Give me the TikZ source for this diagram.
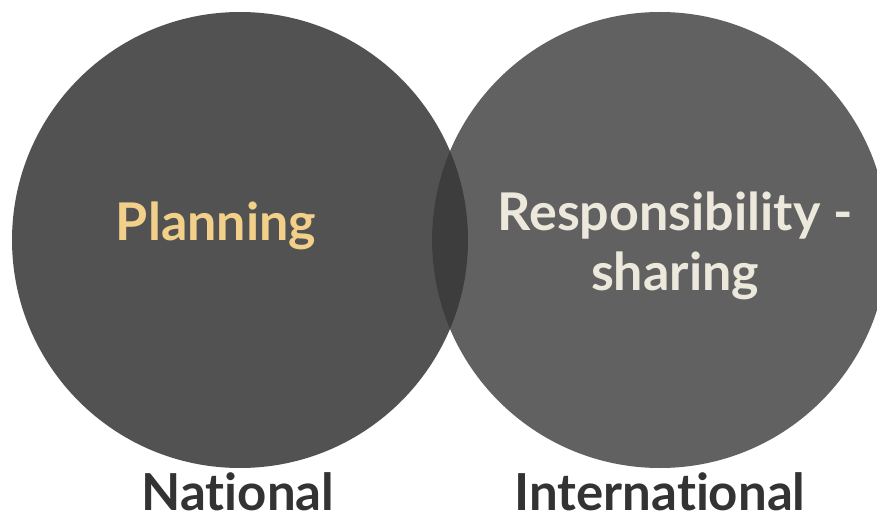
\documentclass[tikz,border=0pt]{standalone}
\usepackage{fontspec}
\setmainfont{Lato}[Ligatures=NoCommon]
\usepackage{xcolor}
\usepackage{tikz}
\usetikzlibrary{positioning}

\definecolor{natfill}{HTML}{525252}
\definecolor{intfill}{HTML}{616161}
\definecolor{overlapfill}{HTML}{3D3D3D}
\definecolor{goldtext}{HTML}{F2D08A}
\definecolor{creamtext}{HTML}{EDE8DC}
\definecolor{labeltext}{HTML}{333333}

\tikzset{
  setcircle/.style={circle, draw=none, inner sep=0pt, minimum size=456pt},
  intext/.style={font=\fontsize{52}{60}\selectfont\bfseries, align=center, inner sep=0pt},
  setlabel/.style={font=\fontsize{51}{58}\selectfont\bfseries, text=labeltext, inner sep=0pt, anchor=base}
}

\begin{document}
\begin{tikzpicture}[x=1pt, y=1pt]
    \useasboundingbox (0,0) rectangle (877,512);
    \fill[white] (0,0) rectangle (877,512);
    % the two sets
    \node[setcircle, fill=natfill] (national) at (240,272) {};
    \node[setcircle, fill=intfill] (international) at (660,272) {};
    % overlap
    \begin{scope}
      \clip (240,272) circle (228);
      \fill[overlapfill] (660,272) circle (228);
    \end{scope}
    \node[intext, text=goldtext, anchor=base] (planning) at (216,272) {Planning};
    \node[intext, text=creamtext] (sharing) at (675,266) {Responsibility -\\sharing};
    \node[setlabel] (natlabel) at ([xshift=-2pt, yshift=-42pt]national.south) {National};
    \node[setlabel] (intlabel) at ([yshift=-42pt]international.south) {International};
\end{tikzpicture}
\end{document}
